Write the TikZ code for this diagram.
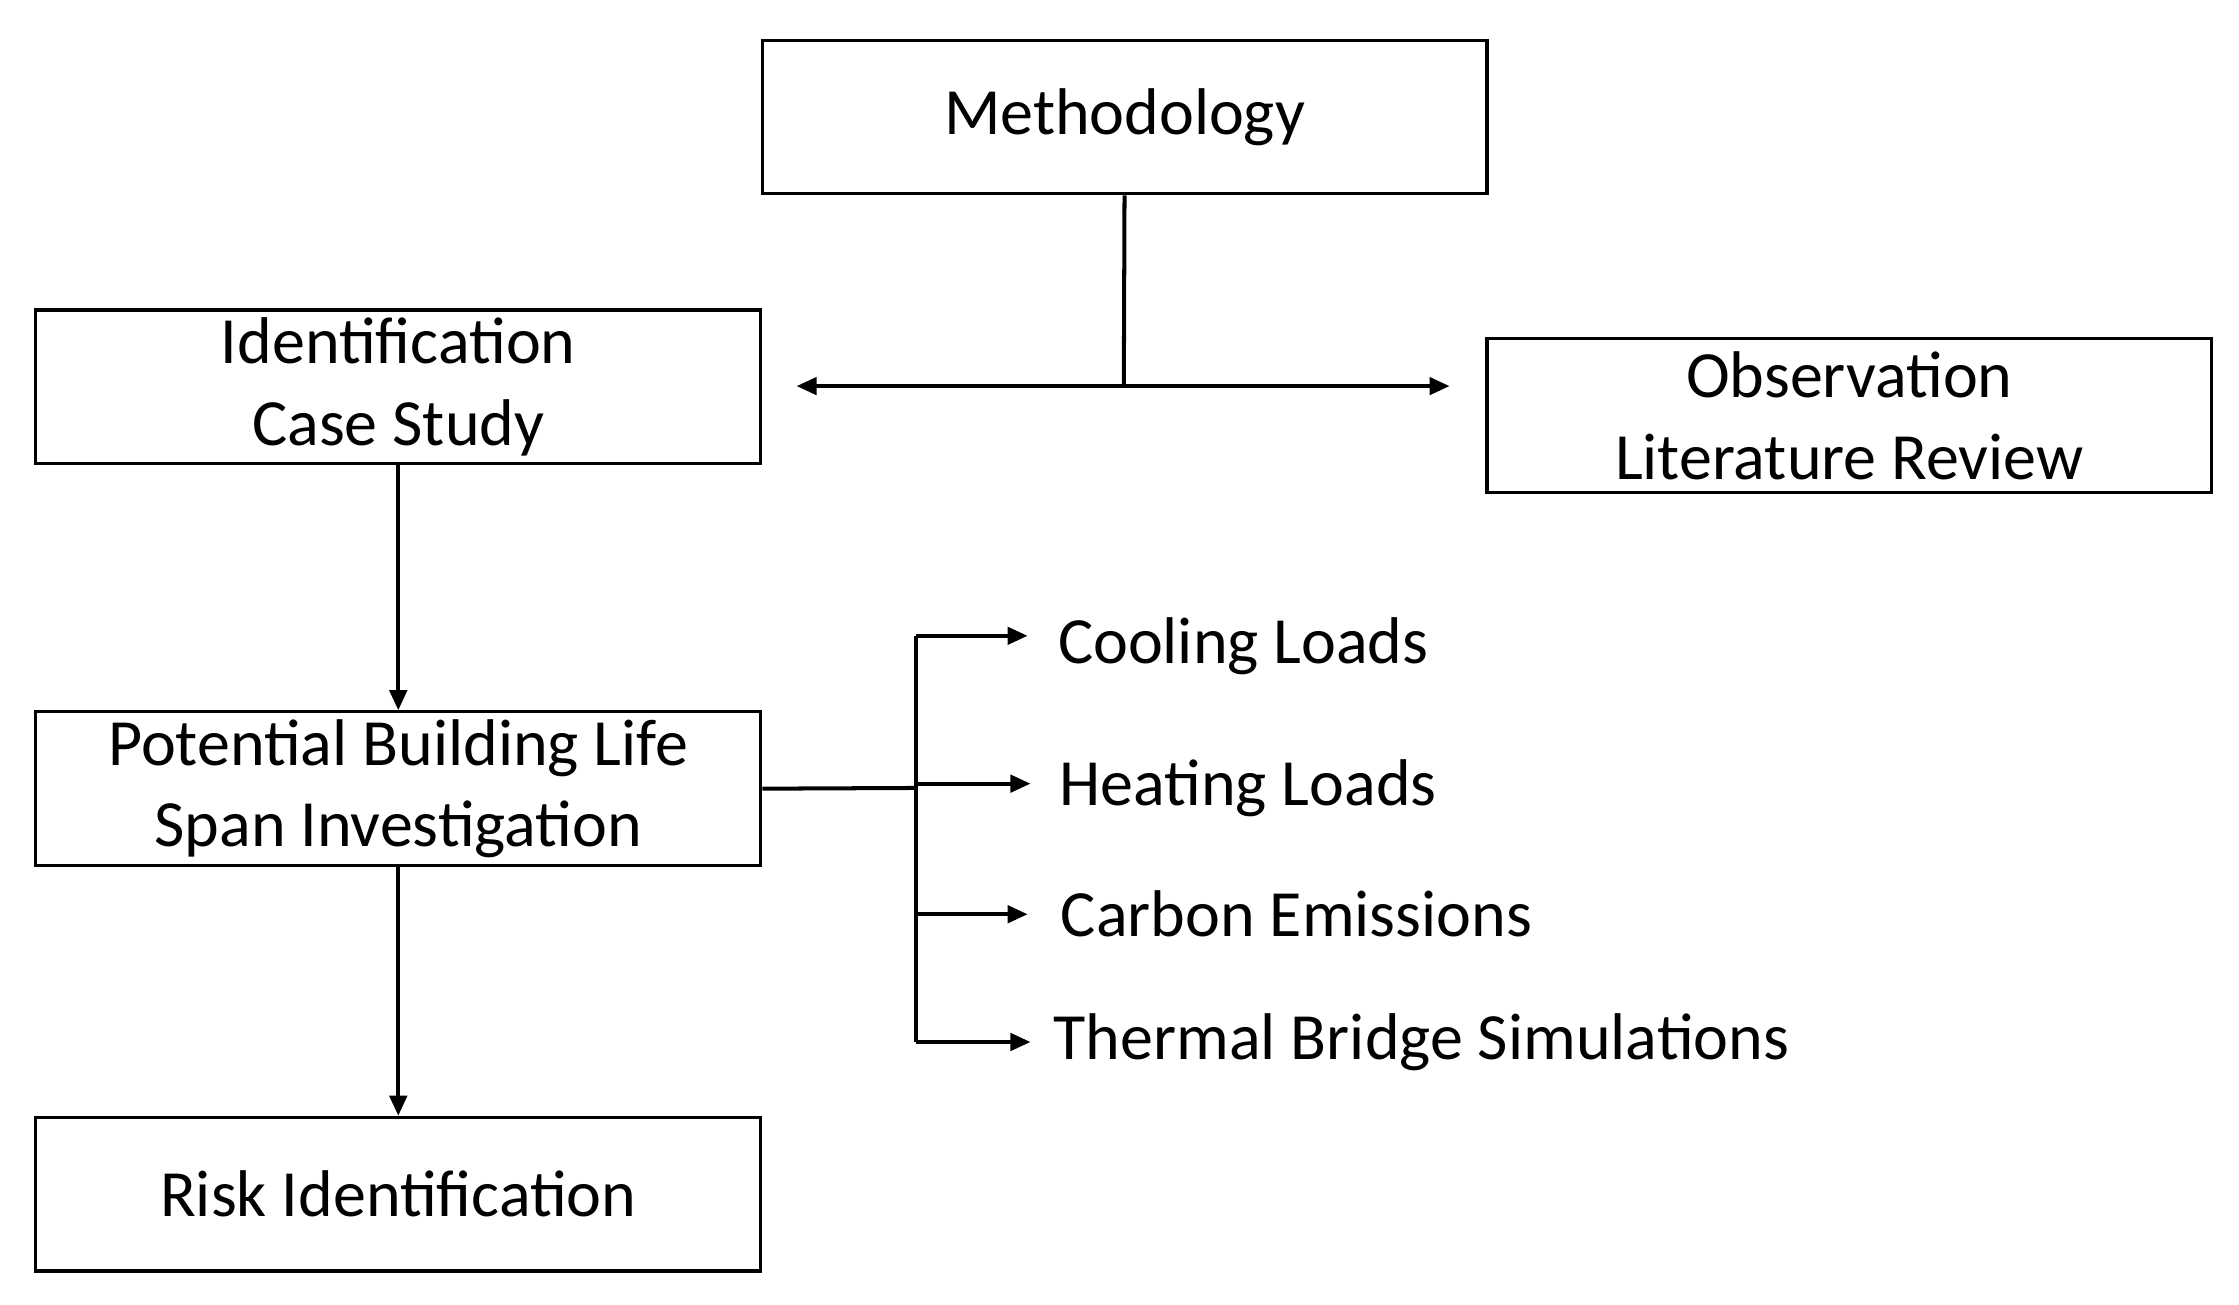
\documentclass[tikz,border=0pt]{standalone}
\usepackage{fontspec}
\setmainfont{Carlito}
\usetikzlibrary{arrows.meta}
\begin{document}
\begin{tikzpicture}[x=1pt,y=-1pt,
  box/.style={draw,line width=2.2pt,minimum width=505pt,minimum height=107pt,align=center,inner sep=0pt,font=\fontsize{46}{57}\selectfont},
  lbl/.style={anchor=west,inner sep=0pt,font=\fontsize{46}{52}\selectfont},
  ln/.style={line width=2.8pt},
  ar/.style={ln,-{Triangle[length=14pt,width=12pt]}}]
\useasboundingbox (0,0) rectangle (1560,909);
\node[box] (m) at (783.5,81.5) {Methodology};
\node[box] (i) at (277.5,269.5) {Identification\\Case Study};
\node[box] (o) at (1288.5,289.5) {Observation\\Literature Review};
\node[box] (p) at (277.5,549.5) {Potential Building Life\\Span Investigation};
\node[box] (r) at (277.5,832) {Risk Identification};
\coordinate (j) at (783,269);
\coordinate (la) at (555,269);
\coordinate (ra) at (1010,269);
\draw[ln] (m.south) -- (j);
\draw[ar] (j) -- (la);
\draw[ar] (j) -- (ra);
\draw[ar] (i.south) -- (p.north);
\draw[ar] (p.south) -- (r.north);
\coordinate (b) at (638,549);
\coordinate (t1) at (638,443);
\coordinate (t4) at (638,726);
\draw[ln] (p.east) -- (b);
\draw[ln] (t1) -- (t4);
\node[lbl] (c1) at (737,450) {Cooling Loads};
\node[lbl] (c2) at (738,549) {Heating Loads};
\node[lbl] (c3) at (739,637) {Carbon Emissions};
\node[lbl] (c4) at (734,726) {Thermal Bridge Simulations};
\coordinate (a1) at (638,443); \coordinate (e1) at (716,443);
\coordinate (a2) at (638,546); \coordinate (e2) at (718,546);
\coordinate (a3) at (638,637); \coordinate (e3) at (716,637);
\coordinate (a4) at (638,726); \coordinate (e4) at (718,726);
\draw[ar] (a1) -- (e1);
\draw[ar] (a2) -- (e2);
\draw[ar] (a3) -- (e3);
\draw[ar] (a4) -- (e4);
\end{tikzpicture}
\end{document}
